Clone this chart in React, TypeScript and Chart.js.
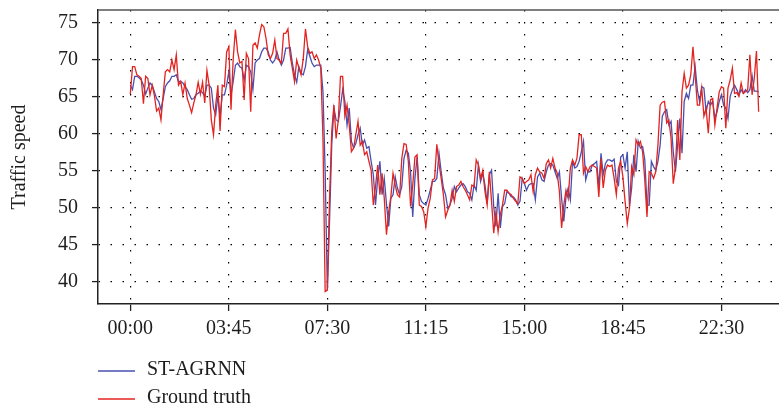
import React, { useEffect, useRef } from "react";
import { Chart, registerables } from "chart.js";

Chart.register(...registerables);

const SERIES_NAMES = ["ST-AGRNN", "Ground truth"];
const TICK_POSITIONS = [0, 45, 90, 135, 180, 225, 270];
const TICK_LABELS = ["00:00", "03:45", "07:30", "11:15", "15:00", "18:45", "22:30"];
const Y_TICKS = [40, 45, 50, 55, 60, 65, 70, 75];

const GROUND_TRUTH = [
  65.3, 69.0, 69.0, 67.9, 67.7, 67.4, 64.0, 67.7, 67.4, 65.2,
  66.5, 65.1, 63.0, 63.4, 61.8, 65.2, 68.3, 68.6, 68.3, 69.9,
  68.6, 70.6, 66.5, 67.0, 65.2, 66.8, 64.7, 63.8, 62.8, 64.1,
  65.2, 66.9, 65.3, 66.9, 64.1, 68.5, 66.5, 61.8, 59.8, 63.8,
  66.5, 60.3, 66.5, 66.3, 71.0, 71.7, 63.2, 70.1, 74.0, 71.0,
  69.5, 69.7, 64.5, 70.8, 70.1, 62.9, 71.9, 72.2, 71.5, 73.3,
  74.7, 74.4, 72.8, 70.6, 70.1, 70.8, 72.6, 70.1, 69.9, 69.5,
  73.5, 73.5, 74.1, 70.6, 68.8, 67.0, 69.9, 68.8, 67.9, 70.1,
  74.1, 71.7, 70.8, 71.0, 70.1, 70.6, 69.9, 68.8, 59.3, 38.6,
  38.8, 51.2, 60.2, 63.8, 59.3, 61.8, 67.7, 67.7, 62.3, 63.8,
  61.1, 57.5, 58.0, 59.8, 61.6, 58.4, 58.9, 57.1, 57.5, 56.2,
  55.0, 50.3, 52.8, 55.7, 51.7, 54.6, 51.2, 46.3, 49.4, 51.4,
  54.6, 53.0, 51.7, 51.4, 56.6, 58.6, 58.5, 56.2, 50.1, 53.0,
  56.8, 57.1, 50.3, 50.1, 49.4, 47.4, 49.9, 51.2, 53.7, 53.9,
  58.5, 55.9, 53.9, 51.7, 48.7, 49.6, 50.3, 52.3, 50.8, 52.8,
  53.0, 53.5, 52.8, 52.3, 51.7, 51.0, 53.0, 52.8, 56.4, 55.7,
  53.9, 55.0, 52.1, 50.3, 54.8, 50.8, 46.5, 49.4, 46.7, 49.0,
  50.3, 52.3, 52.3, 51.9, 51.7, 51.2, 50.8, 50.5, 54.1, 53.9,
  53.2, 53.5, 53.7, 54.4, 52.1, 54.4, 55.3, 54.8, 54.6, 53.9,
  55.9, 56.4, 55.3, 56.6, 55.3, 54.6, 52.1, 47.2, 50.3, 52.3,
  51.2, 55.3, 56.4, 55.7, 56.6, 59.8, 59.8, 54.6, 55.5, 54.8,
  55.5, 55.7, 55.5, 55.3, 51.4, 56.6, 52.6, 55.0, 55.7, 55.5,
  55.7, 53.9, 51.7, 55.3, 56.2, 54.1, 50.8, 47.8, 49.9, 55.5,
  54.4, 59.1, 58.4, 58.9, 57.5, 53.7, 48.7, 54.8, 54.6, 53.9,
  54.8, 58.4, 63.8, 64.2, 64.3, 61.4, 61.8, 59.3, 53.2, 55.3,
  61.8, 56.4, 65.6, 68.1, 66.1, 66.5, 67.9, 71.7, 67.9, 63.8,
  63.8, 66.1, 62.3, 63.4, 60.0, 64.5, 64.7, 61.1, 63.4, 65.6,
  66.3, 66.1, 60.7, 66.1, 67.2, 68.8, 65.4, 65.5, 65.0, 66.8,
  65.4, 65.6, 65.9, 70.6, 65.2, 67.4, 71.1, 62.9,
];

const ST_AGRNN = [
  66.5, 65.9, 67.7, 67.7, 67.5, 67.2, 66.5, 65.3, 66.1, 66.8,
  66.5, 65.6, 64.7, 64.3, 63.2, 64.7, 66.3, 66.8, 67.1, 67.7,
  67.7, 67.9, 67.0, 67.0, 66.8, 66.3, 65.9, 65.2, 64.6, 64.7,
  65.2, 65.4, 65.7, 65.5, 65.0, 66.5, 66.5, 66.1, 63.4, 62.5,
  65.0, 62.3, 65.2, 65.2, 66.5, 68.3, 65.2, 67.0, 69.2, 69.5,
  69.0, 68.8, 67.2, 69.2, 69.0, 68.3, 65.9, 69.5, 69.9, 70.1,
  71.0, 71.5, 71.5, 71.0, 69.9, 69.5, 69.9, 71.0, 69.9, 69.2,
  69.9, 71.5, 71.5, 71.6, 69.5, 67.9, 66.9, 69.0, 68.1, 67.9,
  69.0, 71.3, 70.4, 69.5, 69.0, 69.2, 69.2, 69.2, 65.6, 54.8,
  38.8, 48.1, 58.4, 63.4, 61.8, 61.6, 63.6, 65.9, 64.3, 61.1,
  63.4, 58.9, 58.0, 58.6, 59.8, 60.7, 58.4, 59.1, 58.0, 58.2,
  56.2, 54.4, 50.3, 53.9, 56.2, 51.7, 53.9, 50.5, 47.4, 51.2,
  51.7, 54.1, 52.6, 51.7, 52.8, 56.6, 57.7, 57.3, 54.8, 48.7,
  53.9, 56.8, 51.7, 50.8, 50.5, 50.3, 51.2, 52.3, 53.5, 53.5,
  53.9, 57.3, 54.8, 52.6, 51.7, 49.9, 50.3, 51.2, 52.8, 52.1,
  52.6, 53.0, 53.2, 52.8, 52.1, 51.9, 51.0, 53.0, 52.3, 55.7,
  53.5, 54.6, 53.0, 50.5, 54.4, 55.0, 50.1, 47.4, 51.9, 47.2,
  50.1, 50.5, 52.1, 51.9, 51.4, 51.4, 51.0, 50.3, 50.8, 53.9,
  53.2, 52.3, 53.0, 53.2, 53.2, 51.0, 54.1, 54.6, 53.7, 53.5,
  54.8, 55.7, 55.9, 55.7, 54.8, 53.9, 54.8, 51.2, 48.1, 51.4,
  52.6, 51.0, 56.2, 55.3, 55.5, 56.2, 57.5, 58.9, 53.7, 54.8,
  54.8, 55.7, 55.9, 56.2, 52.8, 57.3, 54.4, 55.9, 56.4, 56.4,
  56.2, 56.5, 53.5, 53.0, 56.8, 57.1, 55.3, 57.5, 50.1, 52.6,
  57.1, 54.8, 58.9, 58.0, 58.2, 56.4, 50.3, 50.3, 56.2, 55.5,
  55.0, 56.2, 58.4, 62.3, 62.9, 63.2, 61.1, 61.6, 57.5, 54.8,
  58.4, 62.0, 57.3, 64.3, 65.4, 64.7, 66.5, 66.5, 69.0, 65.9,
  64.3, 66.3, 66.1, 62.9, 64.3, 63.8, 64.3, 62.0, 62.9, 64.3,
  65.2, 63.8, 63.4, 62.0, 65.0, 65.9, 66.5, 65.9, 65.2, 65.9,
  65.4, 65.9, 65.5, 65.9, 67.8, 65.7, 65.7, 65.6,
];

const BLUE = "#4750b0";
const RED = "#e3231f";
const FONT = '"Liberation Serif", "Times New Roman", serif';
const TEXT = "#1e1e1e";

const frameAndLegend = {
  id: "frameAndLegend",
  afterDraw(chart: any) {
    const { ctx, chartArea } = chart;
    ctx.save();
    ctx.strokeStyle = "#555";
    ctx.lineWidth = 1.5;
    ctx.beginPath();
    ctx.moveTo(chartArea.left, chartArea.top);
    ctx.lineTo(chartArea.right, chartArea.top);
    ctx.stroke();
    const colors = [BLUE, RED];
    const rows = [371, 399];
    ctx.font = `20px ${FONT}`;
    ctx.textBaseline = "middle";
    ctx.textAlign = "left";
    SERIES_NAMES.forEach((name, k) => {
      ctx.strokeStyle = colors[k];
      ctx.lineWidth = 1.3;
      ctx.beginPath();
      ctx.moveTo(98, rows[k]);
      ctx.lineTo(135, rows[k]);
      ctx.stroke();
      ctx.fillStyle = TEXT;
      ctx.fillText(name, 147, rows[k] - 1);
    });
    ctx.restore();
  },
};

export default function App() {
  const ref = useRef<HTMLCanvasElement | null>(null);

  useEffect(() => {
    document.body.style.margin = "0";
    document.body.style.overflow = "hidden";
    const canvas = ref.current;
    if (!canvas) return;
    const chart = new Chart(canvas, {
      type: "line",
      data: {
        datasets: [
          {
            label: SERIES_NAMES[0],
            data: ST_AGRNN.map((y, i) => ({ x: i, y })),
            borderColor: BLUE,
            borderWidth: 1.3,
            pointRadius: 0,
            tension: 0,
            order: 1,
          },
          {
            label: SERIES_NAMES[1],
            data: GROUND_TRUTH.map((y, i) => ({ x: i, y })),
            borderColor: RED,
            borderWidth: 1.3,
            pointRadius: 0,
            tension: 0,
            order: 0,
          },
        ],
      },
      options: {
        animation: false,
        responsive: false,
        events: [],
        layout: { padding: { top: 10, right: 0, left: 0, bottom: 0 } },
        plugins: {
          legend: { display: false },
          tooltip: { enabled: false },
        },
        scales: {
          x: {
            type: "linear",
            min: -14.76,
            max: 296.3,
            afterBuildTicks: (scale: any) => {
              scale.ticks = TICK_POSITIONS.map((v) => ({ value: v }));
            },
            afterFit: (scale: any) => {
              scale.height = 107;
              scale.paddingLeft = 0;
              scale.paddingRight = 0;
            },
            ticks: {
              autoSkip: false,
              maxRotation: 0,
              padding: 6,
              color: TEXT,
              font: { family: FONT, size: 20 },
              callback: (_v: any, idx: number) => TICK_LABELS[idx],
            },
            grid: {
              color: "#000",
              lineWidth: 1.2,
              tickLength: 7,
              tickColor: "#222",
              tickWidth: 1.3,
            },
            border: { color: "#222", width: 1.5, dash: [1.5, 10.5] },
          },
          y: {
            min: 36.93,
            max: 76.66,
            afterBuildTicks: (scale: any) => {
              scale.ticks = Y_TICKS.map((v) => ({ value: v }));
            },
            afterFit: (scale: any) => {
              scale.width = 98;
              scale.paddingTop = 0;
              scale.paddingBottom = 0;
            },
            ticks: {
              padding: 14,
              color: TEXT,
              font: { family: FONT, size: 20 },
            },
            grid: {
              color: "#000",
              lineWidth: 1.2,
              tickLength: 6,
              tickColor: "#222",
              tickWidth: 1.3,
            },
            border: { color: "#222", width: 1.5, dash: [1.5, 10.5] },
            title: {
              display: true,
              text: "Traffic speed",
              color: TEXT,
              font: { family: FONT, size: 20 },
              padding: { top: 8, bottom: 0 },
            },
          },
        },
      },
      plugins: [frameAndLegend],
    });
    return () => chart.destroy();
  }, []);

  return (
    <canvas
      ref={ref}
      width={779}
      height={411}
      style={{ display: "block", width: 779, height: 411 }}
    />
  );
}
